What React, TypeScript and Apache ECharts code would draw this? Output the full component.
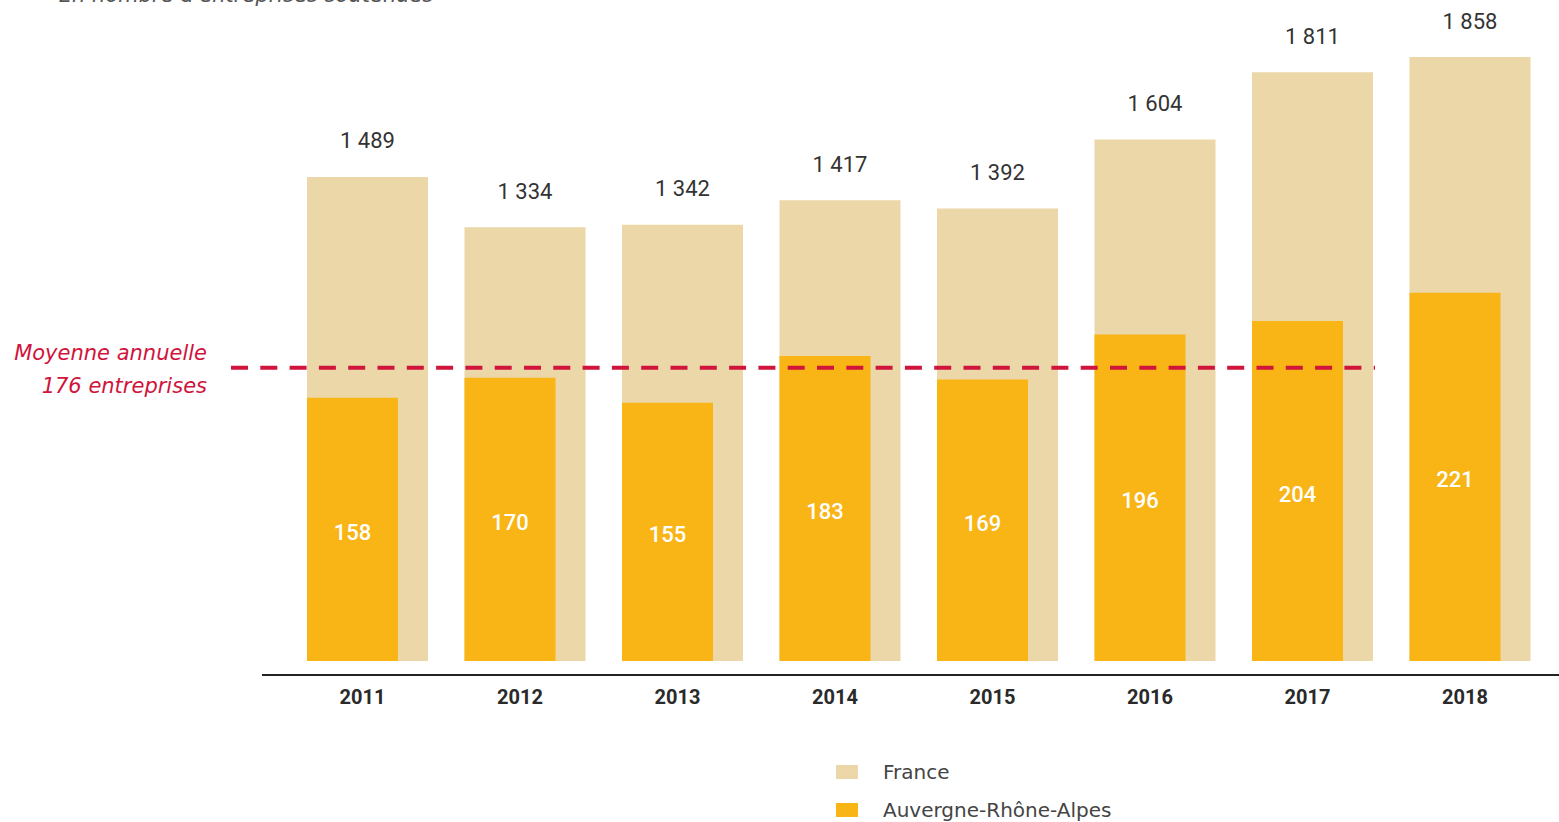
import React, { useEffect, useRef } from "react";
import * as echarts from "echarts";

const years = ["2011", "2012", "2013", "2014", "2015", "2016", "2017", "2018"];
const franceValues = [1489, 1334, 1342, 1417, 1392, 1604, 1811, 1858];
const araValues = [158, 170, 155, 183, 169, 196, 204, 221];
const meanValue = 176;
const seriesNames = ["France", "Auvergne-Rhône-Alpes"];

const fmt = (v: number) => {
  const s = String(v);
  return s.length > 3 ? s.slice(0, s.length - 3) + " " + s.slice(-3) : s;
};

export default function App() {
  const ref = useRef<HTMLDivElement>(null);
  useEffect(() => {
    if (!ref.current) return;
    const chart = echarts.init(ref.current, undefined, { renderer: "svg" });
    chart.setOption({
      animation: false,
      backgroundColor: "#ffffff",
      grid: { left: 273.75, right: 25.25, top: 57, bottom: 161 },
      legend: {
        orient: "vertical",
        left: 836,
        top: 762,
        padding: 0,
        itemWidth: 22,
        itemHeight: 14,
        itemGap: 18,
        icon: "rect",
        textStyle: {
          fontFamily: "DejaVu Sans",
          fontSize: 20,
          lineHeight: 20,
          color: "#444",
          padding: [0, 0, 0, 20],
        },
        data: seriesNames,
      },
      xAxis: {
        type: "category",
        data: years,
        axisLine: { show: false },
        axisTick: { show: false },
        axisLabel: {
          margin: 26,
          fontFamily: "Roboto",
          fontWeight: "bold",
          fontSize: 20,
          color: "#2a2a2a",
          padding: [0, 0, 0, 20],
        },
      },
      yAxis: [
        { type: "value", min: 0, max: 1858, show: false },
        { type: "value", min: 0, max: 362.5, show: false },
      ],
      series: [
        {
          name: seriesNames[0],
          type: "bar",
          yAxisIndex: 0,
          z: 1,
          data: franceValues,
          barWidth: 121,
          barGap: "-100%",
          itemStyle: { color: "#ebd7a7" },
          label: {
            show: true,
            position: "top",
            distance: 25,
            fontFamily: "Roboto",
            fontSize: 22,
            color: "#333",
            formatter: (p: any) => fmt(p.value),
          },
        },
        {
          name: seriesNames[1],
          type: "bar",
          yAxisIndex: 1,
          z: 5,
          data: araValues,
          barWidth: 91,
          barGap: "-100%",
          itemStyle: { color: "#f9b415" },
          label: {
            show: true,
            position: "inside",
            offset: [0, 3],
            fontFamily: "Roboto",
            fontWeight: 500,
            fontSize: 22,
            color: "#ffffff",
          },
        },
      ],
    });
    const yMean = chart.convertToPixel({ yAxisIndex: 1 }, meanValue) as number;
    chart.setOption({
      graphic: [
        {
          type: "line",
          z: 1,
          shape: { x1: 262, y1: 675, x2: 1559, y2: 675 },
          style: { stroke: "#222", lineWidth: 2 },
        },
        {
          type: "line",
          z: 20,
          shape: { x1: 231, y1: yMean, x2: 1375, y2: yMean },
          style: { stroke: "#d0143c", lineWidth: 4, lineDash: [17, 12.3] },
        },
        {
          type: "text",
          x: 207,
          y: 353,
          style: {
            text: "Moyenne annuelle",
            fill: "#d0143c",
            font: "italic 21px 'DejaVu Sans'",
            align: "right",
            verticalAlign: "middle",
          },
        },
        {
          type: "text",
          x: 207,
          y: 386,
          style: {
            text: "176 entreprises",
            fill: "#d0143c",
            font: "italic 21px 'DejaVu Sans'",
            align: "right",
            verticalAlign: "middle",
          },
        },
        {
          type: "text",
          x: 35,
          y: -5,
          style: {
            text: "–  En nombre d'entreprises soutenues  –",
            fill: "#555",
            font: "italic 21px 'DejaVu Sans'",
            align: "left",
            verticalAlign: "middle",
          },
        },
      ],
    });
    return () => chart.dispose();
  }, []);
  return (
    <div
      ref={ref}
      style={{ position: "absolute", left: 0, top: 0, width: 1559, height: 822 }}
    />
  );
}
